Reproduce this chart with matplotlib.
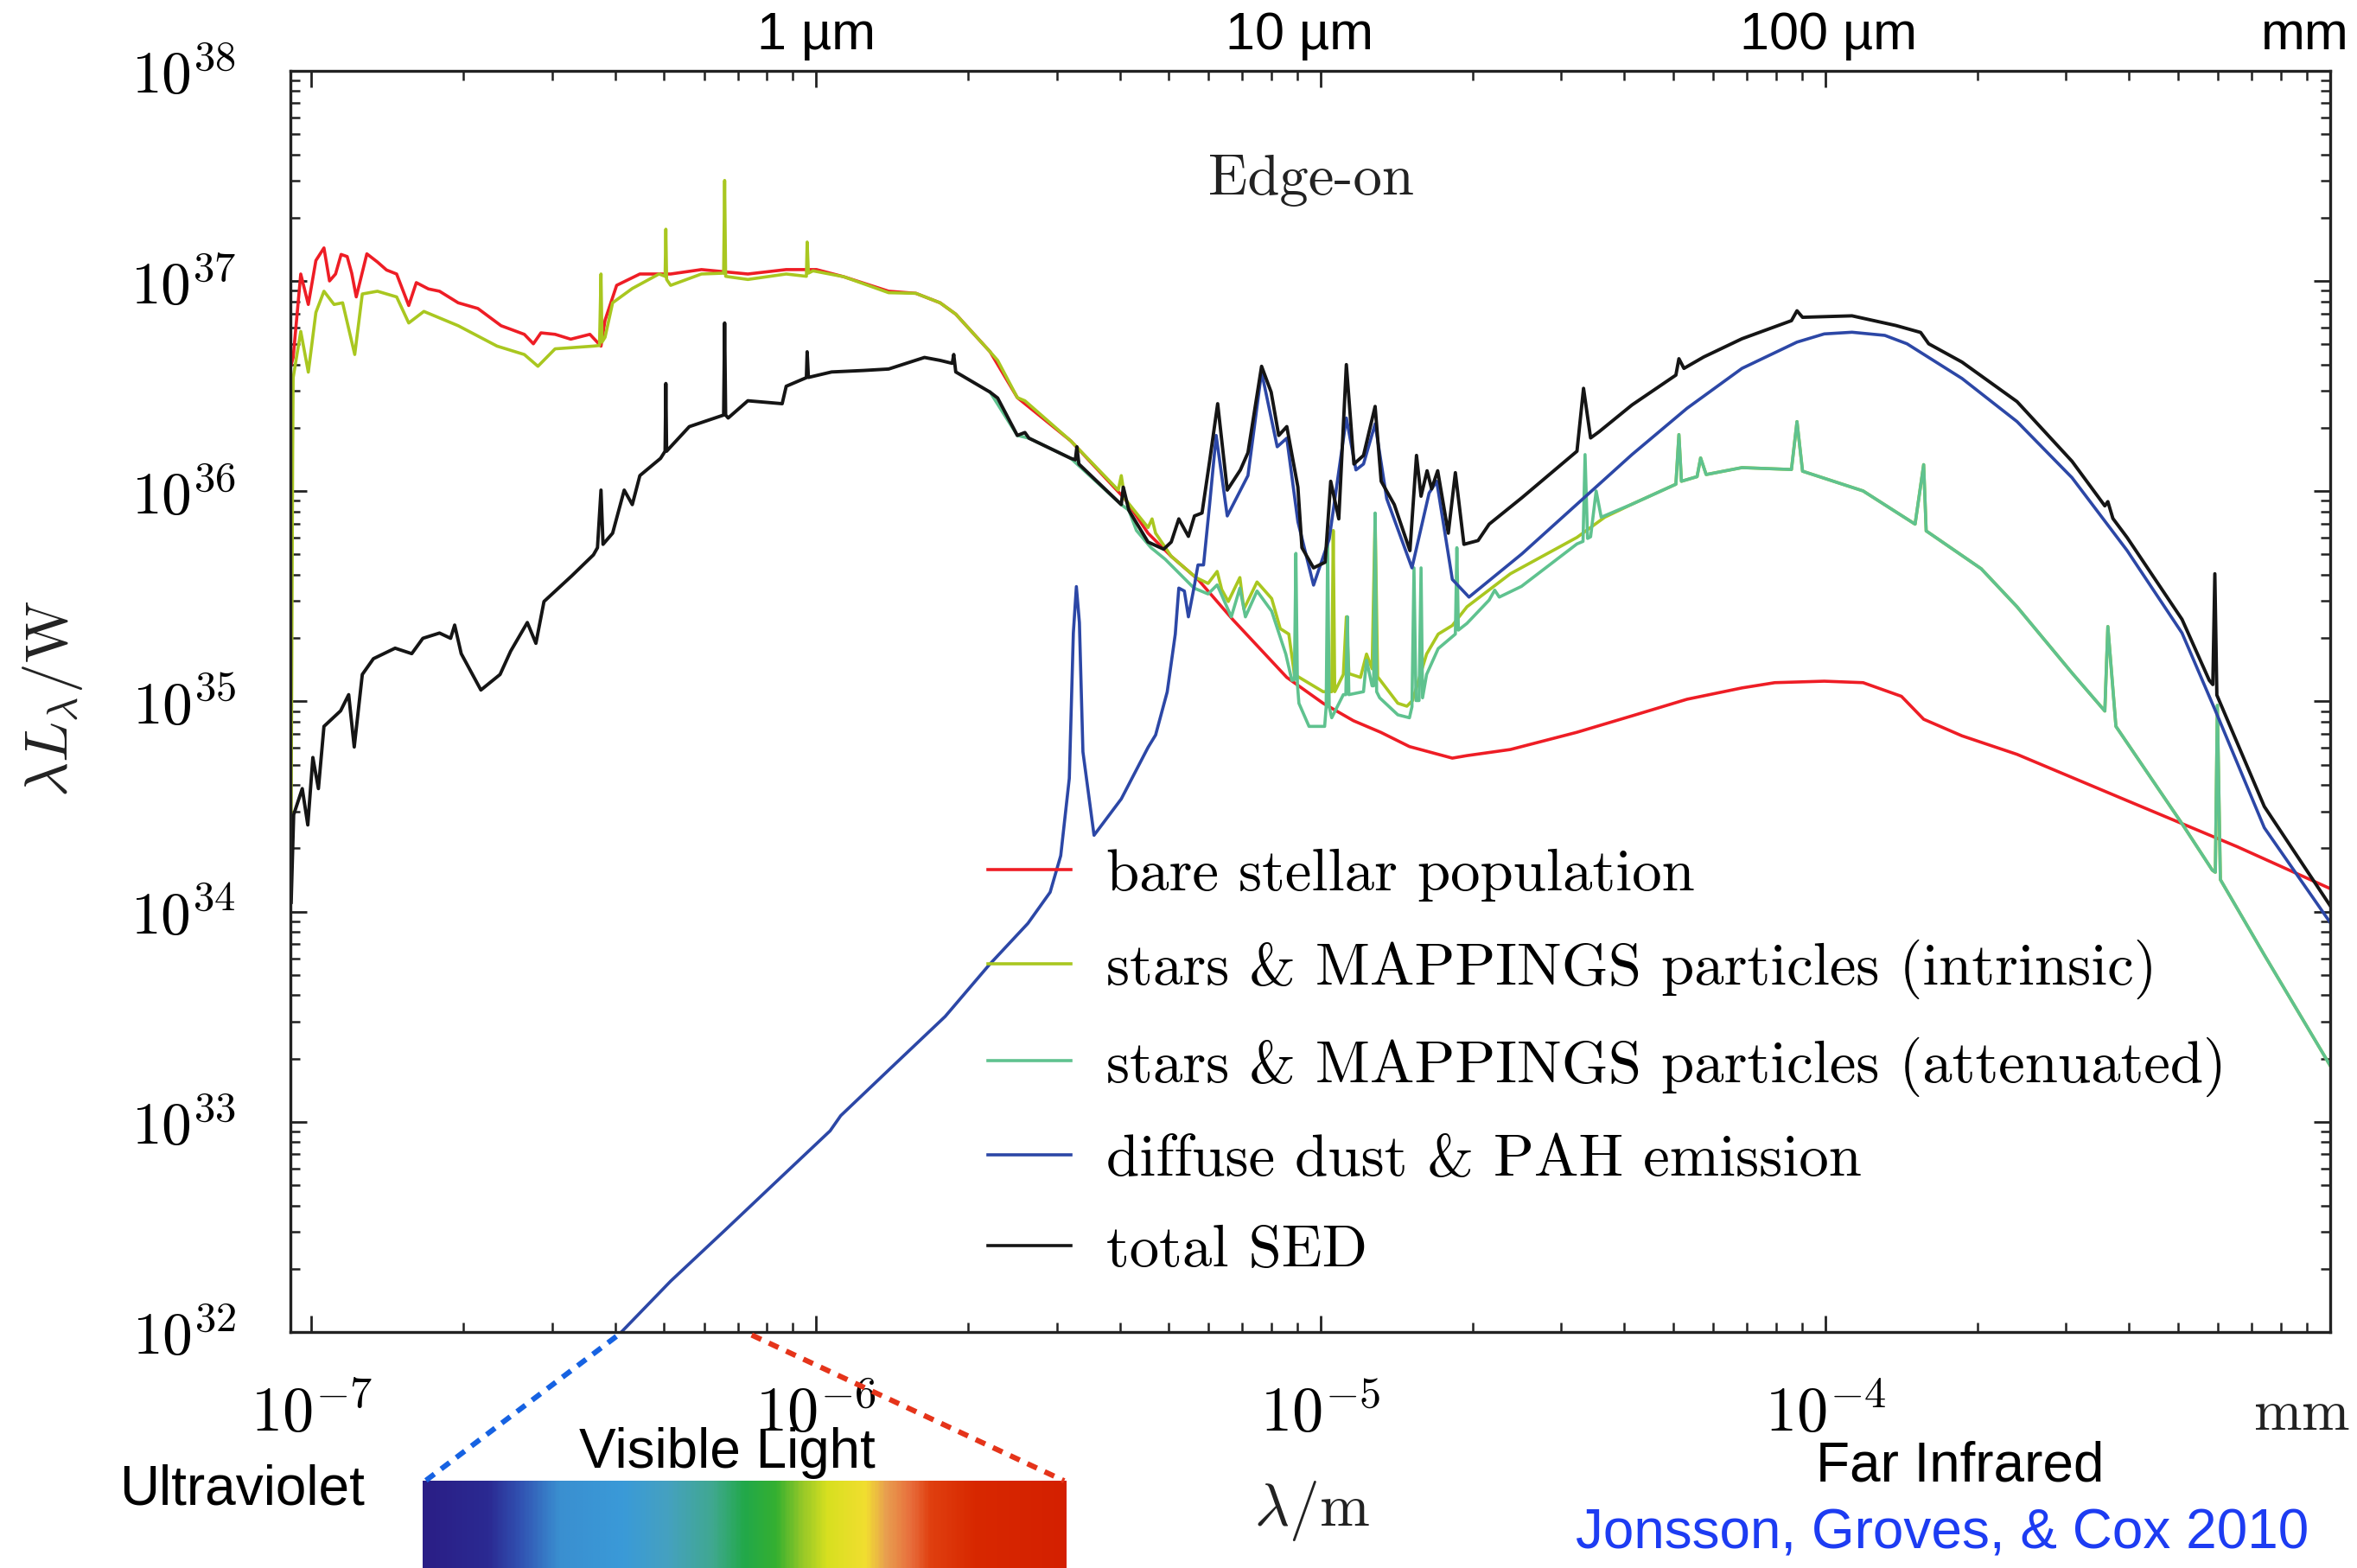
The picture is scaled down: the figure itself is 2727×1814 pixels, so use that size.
import matplotlib.pyplot as plt
import numpy as np
from matplotlib.colors import LinearSegmentedColormap
from matplotlib.lines import Line2D
from matplotlib.ticker import LogLocator, FuncFormatter, NullFormatter
from matplotlib.transforms import blended_transform_factory

plt.rcParams['mathtext.fontset'] = 'cm'
plt.rcParams['axes.formatter.use_mathtext'] = True

# Values: log10(lambda / m) and log10(lambda L_lambda / W)

# bare stellar population
lam_red = [-7.040, -7.036, -7.021, -7.006, -6.991, -6.975, -6.964, -6.952, -6.941, -6.929,
           -6.920, -6.911, -6.890, -6.869, -6.851, -6.831, -6.807, -6.792, -6.768, -6.746,
           -6.709, -6.670, -6.624, -6.578, -6.560, -6.545, -6.517, -6.486, -6.448, -6.426,
           -6.418, -6.395, -6.349, -6.288, -6.227, -6.135, -6.059, -5.999, -5.945, -5.856,
           -5.802, -5.754, -5.723, -5.655, -5.601, -5.495, -5.388, -5.342, -5.296, -5.243,
           -5.174, -5.067, -4.995, -4.935, -4.881, -4.824, -4.739, -4.710, -4.624, -4.492,
           -4.383, -4.274, -4.165, -4.100, -4.002, -3.925, -3.849, -3.805, -3.729, -3.620,
           -3.402, -3.184, -3.000]
L_red = [36.600, 36.636, 37.033, 36.888, 37.097, 37.157, 37.000, 37.033, 37.126, 37.116,
         37.037, 36.924, 37.129, 37.090, 37.052, 37.033, 36.883, 36.992, 36.962, 36.951,
         36.896, 36.869, 36.787, 36.746, 36.701, 36.753, 36.746, 36.723, 36.746, 36.690,
         36.813, 36.979, 37.033, 37.033, 37.054, 37.033, 37.054, 37.054, 37.020, 36.951,
         36.941, 36.896, 36.842, 36.663, 36.445, 36.239, 35.964, 35.800, 35.690, 35.580,
         35.389, 35.114, 34.991, 34.908, 34.853, 34.785, 34.730, 34.742, 34.771, 34.853,
         34.931, 35.010, 35.064, 35.089, 35.096, 35.089, 35.024, 34.915, 34.836, 34.748,
         34.528, 34.309, 34.110]

# stars & MAPPINGS particles (intrinsic), UV to mid-IR
lam_intr = [-7.040, -7.037, -7.036, -7.021, -7.006, -6.991, -6.975, -6.955, -6.938, -6.914,
            -6.899, -6.869, -6.831, -6.807, -6.777, -6.709, -6.632, -6.578, -6.551, -6.517,
            -6.441, -6.429, -6.426, -6.424, -6.418, -6.403, -6.364, -6.311, -6.299, -6.2975,
            -6.296, -6.288, -6.227, -6.183, -6.181, -6.179, -6.174, -6.135, -6.059, -6.019,
            -6.0175, -6.015, -6.006, -5.945, -5.856, -5.802, -5.754, -5.723, -5.655, -5.640,
            -5.601, -5.586, -5.495, -5.401, -5.395, -5.388, -5.342, -5.334, -5.327, -5.296,
            -5.247, -5.223, -5.205, -5.196, -5.183, -5.160, -5.152, -5.126, -5.097, -5.080,
            -5.063, -5.052, -4.995, -4.978, -4.975, -4.972, -4.955, -4.949, -4.944, -4.921,
            -4.909, -4.898, -4.892, -4.887, -4.847, -4.829, -4.818, -4.790, -4.767, -4.739,
            -4.710, -4.624, -4.492, -4.437]
L_intr = [34.474, 36.190, 36.540, 36.760, 36.566, 36.850, 36.951, 36.888, 36.896, 36.650,
          36.938, 36.951, 36.924, 36.800, 36.855, 36.787, 36.690, 36.650, 36.594, 36.677,
          36.690, 36.693, 37.033, 36.709, 36.732, 36.896, 36.964, 37.033, 37.022, 37.246,
          37.007, 36.979, 37.033, 37.037, 37.478, 37.022, 37.020, 37.007, 37.033, 37.022,
          37.185, 37.037, 37.048, 37.020, 36.944, 36.941, 36.896, 36.842, 36.663, 36.622,
          36.445, 36.430, 36.239, 36.005, 36.074, 35.964, 35.827, 35.868, 35.800, 35.690,
          35.589, 35.561, 35.618, 35.532, 35.475, 35.589, 35.439, 35.568, 35.489, 35.346,
          35.320, 35.128, 35.046, 35.046, 35.813, 35.046, 35.128, 35.402, 35.132, 35.114,
          35.225, 35.155, 35.882, 35.117, 34.991, 34.977, 35.004, 35.225, 35.320, 35.361,
          35.450, 35.607, 35.780, 35.876]

# stars & MAPPINGS particles (attenuated), near- to mid-IR
lam_att = [-5.655, -5.601, -5.578, -5.495, -5.395, -5.380, -5.365, -5.336, -5.308, -5.251,
           -5.223, -5.205, -5.193, -5.177, -5.160, -5.149, -5.126, -5.097, -5.069, -5.057,
           -5.052, -5.049, -5.046, -5.043, -5.023, -4.992, -4.989, -4.986, -4.983, -4.978,
           -4.955, -4.950, -4.947, -4.944, -4.915, -4.909, -4.898, -4.895, -4.892, -4.889,
           -4.883, -4.847, -4.824, -4.819, -4.815, -4.811, -4.805, -4.801, -4.798, -4.790,
           -4.767, -4.733, -4.730, -4.727, -4.710, -4.666, -4.655, -4.646, -4.602, -4.492,
           -4.480, -4.476, -4.471, -4.465, -4.454, -4.444]
L_att = [36.471, 36.265, 36.252, 36.156, 35.936, 35.909, 35.813, 35.731, 35.676, 35.539,
         35.511, 35.554, 35.489, 35.402, 35.539, 35.402, 35.525, 35.429, 35.225, 35.100,
         35.103, 35.704, 35.082, 34.991, 34.881, 34.881, 34.974, 35.745, 34.974, 34.922,
         35.032, 35.032, 35.403, 35.032, 35.046, 35.196, 35.074, 35.074, 35.896, 35.046,
         35.017, 34.936, 34.922, 34.974, 35.635, 35.004, 35.004, 35.635, 35.017, 35.128,
         35.251, 35.320, 35.731, 35.339, 35.371, 35.482, 35.529, 35.496, 35.547, 35.749,
         35.761, 36.174, 35.775, 35.783, 36.001, 35.876]

# far-IR part, shared by the intrinsic and attenuated spectra
lam_fir = [-4.383, -4.296, -4.290, -4.285, -4.254, -4.247, -4.236, -4.165, -4.067, -4.056,
           -4.045, -3.925, -3.822, -3.805, -3.800, -3.691, -3.620, -3.511, -3.446, -3.440,
           -3.424, -3.293, -3.233, -3.227, -3.223, -3.217, -3.130, -3.000]
L_fir = [35.938, 36.033, 36.269, 36.047, 36.069, 36.158, 36.079, 36.112, 36.103, 36.331,
         36.095, 36.001, 35.843, 36.126, 35.811, 35.631, 35.450, 35.135, 34.954, 35.356,
         34.881, 34.418, 34.197, 34.187, 34.981, 34.152, 33.794, 33.270]

# diffuse dust & PAH emission
lam_dust = [-6.486, -6.386, -6.288, -6.180, -6.070, -5.972, -5.951, -5.853, -5.744, -5.657,
            -5.580, -5.536, -5.515, -5.498, -5.490, -5.484, -5.478, -5.471, -5.449, -5.395,
            -5.342, -5.327, -5.304, -5.288, -5.281, -5.270, -5.262, -5.250, -5.243, -5.232,
            -5.220, -5.207, -5.185, -5.144, -5.117, -5.086, -5.067, -5.045, -5.014, -4.983,
            -4.949, -4.930, -4.915, -4.892, -4.869, -4.819, -4.785, -4.770, -4.739, -4.706,
            -4.601, -4.492, -4.383, -4.274, -4.165, -4.056, -4.002, -3.947, -3.882, -3.838,
            -3.729, -3.620, -3.511, -3.402, -3.293, -3.228, -3.130, -3.000]
L_dust = [31.755, 31.999, 32.242, 32.485, 32.735, 32.957, 33.029, 33.253, 33.501, 33.746,
          33.944, 34.092, 34.266, 34.634, 35.325, 35.546, 35.375, 34.760, 34.363, 34.536,
          34.781, 34.840, 35.045, 35.320, 35.539, 35.525, 35.402, 35.553, 35.649, 35.649,
          35.936, 36.265, 35.882, 36.074, 36.567, 36.211, 36.252, 35.854, 35.553, 35.772,
          36.348, 36.101, 36.129, 36.320, 35.964, 35.635, 35.991, 36.047, 35.580, 35.496,
          35.702, 35.938, 36.174, 36.394, 36.584, 36.709, 36.748, 36.756, 36.741, 36.701,
          36.536, 36.331, 36.064, 35.718, 35.325, 34.962, 34.399, 33.950]

# total SED
lam_tot = [-7.040, -7.035, -7.018, -7.007, -6.997, -6.986, -6.975, -6.942, -6.926, -6.915,
           -6.899, -6.877, -6.834, -6.801, -6.779, -6.746, -6.724, -6.716, -6.703, -6.664,
           -6.626, -6.605, -6.572, -6.555, -6.539, -6.484, -6.441, -6.433, -6.426, -6.422,
           -6.403, -6.380, -6.364, -6.349, -6.308, -6.299, -6.2975, -6.296, -6.288, -6.251,
           -6.183, -6.181, -6.179, -6.174, -6.135, -6.067, -6.059, -6.019, -6.0175, -6.015,
           -5.969, -5.906, -5.856, -5.785, -5.754, -5.730, -5.727, -5.723, -5.655, -5.640,
           -5.601, -5.586, -5.578, -5.495, -5.486, -5.483, -5.479, -5.395, -5.391, -5.380,
           -5.342, -5.311, -5.296, -5.281, -5.262, -5.250, -5.235, -5.220, -5.204, -5.185,
           -5.159, -5.144, -5.117, -5.098, -5.083, -5.067, -5.045, -5.037, -5.014, -4.991,
           -4.980, -4.964, -4.949, -4.934, -4.915, -4.892, -4.880, -4.854, -4.823, -4.810,
           -4.801, -4.789, -4.780, -4.768, -4.747, -4.733, -4.716, -4.688, -4.666, -4.601,
           -4.492, -4.479, -4.465, -4.448, -4.383, -4.296, -4.290, -4.280, -4.241, -4.165,
           -4.067, -4.056, -4.045, -3.947, -3.860, -3.811, -3.795, -3.729, -3.620, -3.511,
           -3.446, -3.440, -3.430, -3.402, -3.293, -3.239, -3.232, -3.228, -3.224, -3.130,
           -3.000]
L_tot = [34.044, 34.461, 34.585, 34.412, 34.733, 34.585, 34.881, 34.955, 35.032, 34.783,
         35.128, 35.203, 35.253, 35.227, 35.300, 35.325, 35.300, 35.363, 35.227, 35.054,
         35.128, 35.239, 35.375, 35.276, 35.475, 35.597, 35.697, 35.731, 36.005, 35.747,
         35.800, 36.005, 35.936, 36.074, 36.156, 36.190, 36.512, 36.190, 36.211, 36.307,
         36.362, 36.800, 36.362, 36.348, 36.430, 36.416, 36.499, 36.540, 36.663, 36.541,
         36.567, 36.574, 36.581, 36.636, 36.622, 36.608, 36.650, 36.567, 36.471, 36.443,
         36.265, 36.279, 36.252, 36.156, 36.149, 36.211, 36.129, 35.936, 36.019, 35.909,
         35.758, 35.724, 35.758, 35.868, 35.785, 35.882, 35.896, 36.142, 36.416, 36.005,
         36.101, 36.183, 36.594, 36.471, 36.265, 36.307, 36.019, 35.731, 35.635, 35.662,
         36.047, 35.868, 36.602, 36.129, 36.170, 36.403, 36.047, 35.936, 35.717, 36.170,
         35.976, 36.097, 36.011, 36.097, 35.800, 36.088, 35.747, 35.765, 35.843, 35.969,
         36.190, 36.489, 36.253, 36.283, 36.410, 36.552, 36.630, 36.584, 36.638, 36.725,
         36.811, 36.858, 36.827, 36.834, 36.788, 36.755, 36.701, 36.614, 36.426, 36.142,
         35.930, 35.950, 35.870, 35.780, 35.390, 35.100, 35.080, 35.607, 35.030, 34.500,
         34.030]

labels = ['bare stellar population',
          'stars & MAPPINGS particles (intrinsic)',
          'stars & MAPPINGS particles (attenuated)',
          'diffuse dust & PAH emission',
          'total SED']
colors = ['#ee1d25', '#a9c720', '#5fc28f', '#2c47a6', '#151515']

top_names = ['1 µm', '10 µm', '100 µm', 'mm']
top_pos = [-5.999, -5.042, -3.993, -3.05]

spectrum_stops = [0.0, 0.10, 0.15, 0.21, 0.31, 0.38, 0.45, 0.50, 0.55, 0.59, 0.63,
                  0.69, 0.72, 0.76, 0.79, 0.86, 1.0]
spectrum_colors = ['#2a1e86', '#2b2a92', '#3152b2', '#3a8fd0', '#3a9ad8', '#45a1c0',
                   '#40a890', '#22a84a', '#35b030', '#95c828', '#d8e020', '#f2de30',
                   '#e8a050', '#e86e3c', '#e04010', '#d82800', '#d42000']

SANS = ['Liberation Sans', 'DejaVu Sans']

fig = plt.figure(figsize=(13.635, 9.07), dpi=200)
ax = fig.add_axes([0.1231, 0.1505, 0.8654, 0.8044])

lw = 1.3
ax.plot(10**np.array(lam_red), 10**np.array(L_red), color=colors[0], lw=lw)
ax.plot(10**np.array(lam_intr + lam_fir), 10**np.array(L_intr + L_fir), color=colors[1], lw=lw)
ax.plot(10**np.array(lam_att + lam_fir), 10**np.array(L_att + L_fir), color=colors[2], lw=lw)
ax.plot(10**np.array(lam_dust), 10**np.array(L_dust), color=colors[3], lw=lw)
ax.plot(10**np.array(lam_tot), 10**np.array(L_tot), color=colors[4], lw=lw + 0.1)

ax.set_xscale('log')
ax.set_yscale('log')
ax.set_xlim(10**-7.042, 1e-3)
ax.set_ylim(1e32, 1e38)

for axis in (ax.xaxis, ax.yaxis):
    axis.set_major_locator(LogLocator(base=10, numticks=100))
    axis.set_minor_locator(LogLocator(base=10, subs=np.arange(2, 10), numticks=100))
    axis.set_minor_formatter(NullFormatter())
ax.xaxis.set_major_formatter(FuncFormatter(
    lambda v, p: '' if v > 5e-4 else r'$10^{%d}$' % round(np.log10(v))))
ax.yaxis.set_major_formatter(FuncFormatter(lambda v, p: r'$10^{%d}$' % round(np.log10(v))))

ax.tick_params(which='both', direction='in', top=True, right=True, color='#222222')
ax.tick_params(which='major', length=7, width=1.0)
ax.tick_params(which='minor', length=3.8, width=0.9)
ax.tick_params(axis='x', which='major', labelsize=26, pad=22)
ax.tick_params(axis='y', which='major', labelsize=25, pad=22.5)
for s in ax.spines.values():
    s.set_linewidth(1.2)
    s.set_color('#222222')

ax.text(0.5004, 0.913, 'Edge-on', transform=ax.transAxes, ha='center', va='center',
        family='cmr10', fontsize=24, color='#222222')

handles = [Line2D([], [], color=c, lw=lw) for c in colors]
ax.legend(handles, labels, loc='upper left', bbox_to_anchor=(0.3419, 0.383),
          frameon=False, prop={'family': 'cmr10', 'size': 24.8}, handlelength=1.40,
          handletextpad=0.60, labelspacing=0.63, borderpad=0, borderaxespad=0)

fig.text(0.0223, 0.5542, r'$\lambda L_\lambda/\mathrm{W}$', rotation=90,
         ha='center', va='center', fontsize=25, color='#222222')
fig.text(0.5568, 0.0364, r'$\lambda/\mathrm{m}$', ha='center', va='center',
         fontsize=25, color='#222222')
fig.text(0.9764, 0.0988, r'$\mathrm{mm}$', ha='center', va='center', fontsize=24,
         color='#222222')

top_tr = blended_transform_factory(ax.transData, fig.transFigure)
for name, pos in zip(top_names, top_pos):
    ax.text(10**pos, 0.9684, name, transform=top_tr, ha='center', va='baseline',
            family=SANS, fontsize=22, clip_on=False)

fig.text(0.1027, 0.0403, 'Ultraviolet', ha='center', va='baseline', family=SANS, fontsize=23)
fig.text(0.3087, 0.0642, 'Visible Light', ha='center', va='baseline', family=SANS, fontsize=23)
fig.text(0.8316, 0.0556, 'Far Infrared', ha='center', va='baseline', family=SANS, fontsize=23)
fig.text(0.824, 0.0125, 'Jonsson, Groves, & Cox 2010', ha='center', va='baseline',
         family=SANS, fontsize=23, color='#1d3cf2')

fig.add_artist(Line2D([0.2615, 0.1805], [0.1477, 0.0556], transform=fig.transFigure,
                      color='#1662e2', lw=2.2, ls=(0, (2.0, 1.6))))
fig.add_artist(Line2D([0.3189, 0.4515], [0.1486, 0.0556], transform=fig.transFigure,
                      color='#e5341a', lw=2.2, ls=(0, (2.0, 1.6))))

spec_cmap = LinearSegmentedColormap.from_list('spectrum', list(zip(spectrum_stops, spectrum_colors)))
bax = fig.add_axes([0.1792, 0.0, 0.2730, 0.0556])
bax.imshow(np.linspace(0, 1, 400)[None, :], aspect='auto', cmap=spec_cmap)
bax.axis('off')

fig.savefig('out.png', dpi=200)
